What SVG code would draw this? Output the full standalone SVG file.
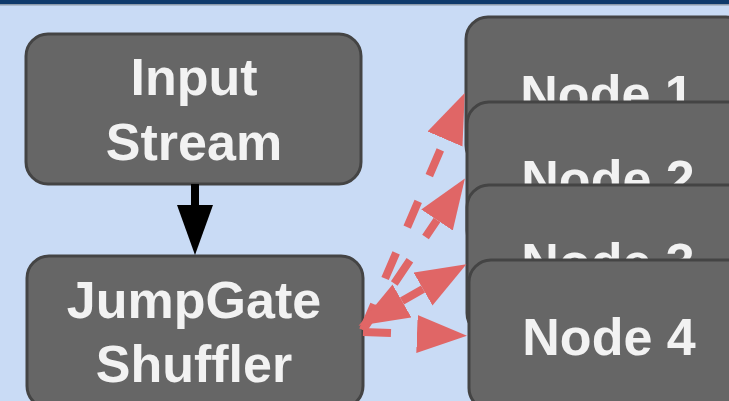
<svg xmlns="http://www.w3.org/2000/svg" width="729" height="401" viewBox="0 0 729 401">
<defs>
<style>
.box{fill:#666666;stroke:#444444;stroke-width:3}
.lbl{font-family:"Liberation Sans",Arial,sans-serif;font-weight:bold;font-size:52px;fill:#f2f2f2;text-anchor:middle}
.red{fill:none;stroke:#e06666;stroke-width:8;stroke-dasharray:28 28}
</style>
<marker id="rh" markerUnits="userSpaceOnUse" markerWidth="52" markerHeight="40" refX="0" refY="19" orient="auto-start-reverse" viewBox="0 0 52 40">
<path d="M0,0 L50,19 L0,38 z" fill="#e06666"/>
</marker>
</defs>
<rect x="0" y="0" width="729" height="401" fill="#c9dbf5"/>
<rect x="0" y="0" width="729" height="4" fill="#0f3a6b"/>
<rect x="0" y="4" width="729" height="1.5" fill="#8c9aaa"/>

<g id="input-stream">
<rect class="box" x="26" y="34" width="335" height="150" rx="22"/>
<text class="lbl" x="194" y="95">Input</text>
<text class="lbl" x="194" y="160">Stream</text>
</g>
<g id="jumpgate-shuffler">
<rect class="box" x="27" y="256" width="336" height="152" rx="22"/>
<text class="lbl" x="194" y="318">JumpGate</text>
<text class="lbl" x="194" y="382">Shuffler</text>
</g>
<g id="node-1">
<rect class="box" x="466" y="17" width="282" height="150" rx="22"/>
<text class="lbl" x="607" y="112">Node 1</text>
</g>
<g id="node-2">
<rect class="box" x="467" y="102" width="282" height="150" rx="22"/>
<text class="lbl" x="608" y="197">Node 2</text>
</g>
<g id="node-3">
<rect class="box" x="467" y="185" width="282" height="150" rx="22"/>
<text class="lbl" x="608" y="280">Node 3</text>
</g>
<g id="node-4">
<rect class="box" x="469" y="260" width="282" height="150" rx="22"/>
<text class="lbl" x="609" y="355">Node 4</text>
</g>

<g id="connectors">
<line x1="195" y1="184" x2="195" y2="207" stroke="#000" stroke-width="8"/>
<path d="M177,205 L213,205 L195,255 z" fill="#000"/>
<line class="red" x1="363" y1="330" x2="445" y2="139" marker-end="url(#rh)"/>
<line class="red" x1="363" y1="330" x2="437" y2="220" marker-end="url(#rh)"/>
<line class="red" x1="402" y1="301" x2="423" y2="289" style="stroke-dasharray:none" marker-start="url(#rh)" marker-end="url(#rh)"/>
<line class="red" x1="363" y1="332" x2="417" y2="334" marker-end="url(#rh)"/>
</g>
</svg>
